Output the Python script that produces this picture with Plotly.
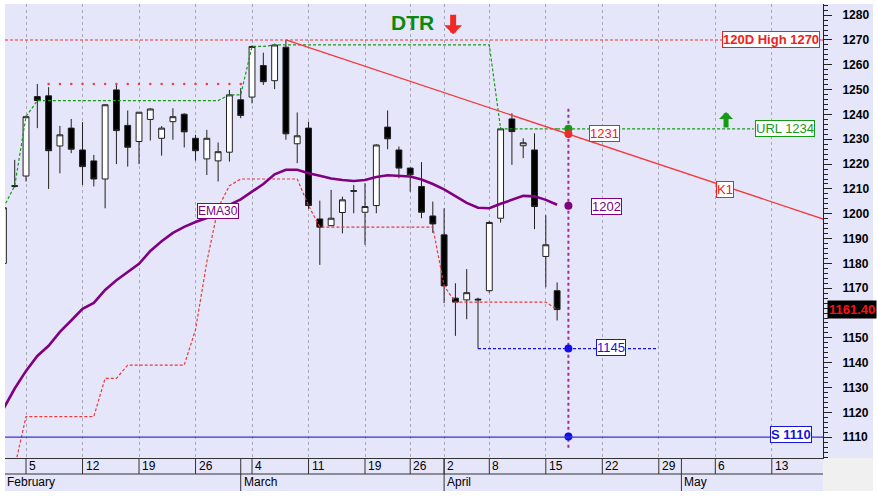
import plotly.graph_objects as go

# ---------------- data ----------------
# trading-day index (0 = Feb 5)
days = list(range(-2, 48))
opens = [1180, 1211, 1215.2, 1247.2, 1247.5, 1227.3, 1234.5, 1225.7, 1221.3, 1214,
         1249.9, 1235.6, 1229.1, 1238, 1230.4, 1237.1, 1240.1, 1230.4, 1222.1, 1221.3,
         1224.8, 1245.9, 1247, 1259.7, 1253.6, 1267.1, 1228.2, 1234.5, 1197.9, 1195.2,
         1200.5, 1209.3, 1200.6, 1203.3, 1234.9, 1225.7, 1218.4, 1211, 1199.1, 1191.5,
         1166, 1165.3, 1165.6, 1169, 1198.2, 1238.2, 1227.4, 1225.7, 1182.8, 1169]
highs = [1203, 1221.7, 1239.5, 1252.3, 1251, 1235.4, 1238.2, 1236.9, 1223.7, 1244.2,
         1252.3, 1241.6, 1241, 1242.5, 1235.3, 1242.5, 1240.5, 1231.8, 1233.8, 1228.7,
         1249.9, 1250.6, 1267.8, 1264.9, 1268.5, 1270, 1240.8, 1237.1, 1205.3, 1209.6,
         1206.9, 1211.6, 1212.3, 1228, 1241.6, 1227.1, 1218.6, 1220.8, 1204.9, 1202.2,
         1172, 1177.7, 1166.2, 1197, 1234.8, 1240.5, 1230.4, 1232.4, 1199.4, 1172.3]
lows = [1178, 1210.5, 1213, 1234.5, 1210, 1216.3, 1224.4, 1211.6, 1211, 1202.2,
        1220, 1219, 1220, 1229.5, 1223.4, 1229.8, 1226.7, 1221.4, 1215.6, 1213,
        1221, 1238.5, 1244.5, 1251.9, 1250.2, 1229.8, 1220.4, 1202, 1179.4, 1195,
        1192.1, 1200.2, 1187.5, 1200.2, 1226, 1214.3, 1208.9, 1198.2, 1192.3, 1164,
        1150.8, 1157.5, 1145.7, 1168.2, 1196.4, 1219.7, 1222.4, 1193.8, 1170.4, 1157]
closes = [1202.4, 1211.3, 1239.1, 1245.6, 1225.4, 1231.8, 1226, 1219, 1214, 1243.9,
          1233.5, 1226.8, 1240.9, 1242.2, 1234.5, 1239.1, 1233, 1225.4, 1230.4, 1225,
          1247.9, 1239.6, 1267.4, 1253.2, 1268, 1232.2, 1231.4, 1203.3, 1194.6, 1198.2,
          1205.6, 1209.1, 1202.9, 1227.7, 1230.2, 1218.4, 1215.7, 1200.6, 1195.9, 1170.9,
          1164.4, 1168.2, 1165.3, 1196.5, 1234.2, 1233.1, 1228.6, 1202.9, 1187.5, 1161.4]

ema30 = [1121.4, 1129.6, 1136.7, 1142.7, 1146.8, 1152.4, 1157, 1161.7, 1164.1, 1169.3,
         1173.2, 1176.6, 1179.8, 1185, 1188.9, 1192.3, 1194.7, 1196.7, 1198.3, 1200.7,
         1203.6, 1205.8, 1208.8, 1212, 1215.9, 1217.7, 1217.7, 1216.3, 1215.3, 1214.2,
         1213.6, 1213.2, 1213.6, 1214.8, 1215.5, 1215.4, 1215, 1213.8, 1212, 1209.8,
         1207.2, 1204.4, 1202.4, 1202.2, 1204, 1205.6, 1207.2, 1207, 1205.6, 1203.6]
upper_close = [1202.4, 1211.3, 1239.1, 1245.6, 1245.6, 1245.6, 1245.6, 1245.6, 1245.6, 1245.6,
               1245.6, 1245.6, 1245.6, 1245.6, 1245.6, 1245.6, 1245.6, 1245.6, 1245.6, 1245.6,
               1247.9, 1247.9, 1267.4, 1267.4, 1268, 1268, 1268, 1268, 1268, 1268,
               1268, 1268, 1268, 1268, 1268, 1268, 1268, 1268, 1268, 1268,
               1268, 1268, 1268, 1268, 1234.2, 1234.2, 1234.2, 1234.2, 1234.2, 1234.2]
lower_close = [1094, 1098, 1118.3, 1118.3, 1118.3, 1118.3, 1118.3, 1118.3, 1118.3, 1133.7,
               1133.7, 1139, 1139, 1139, 1139, 1139, 1139, 1153.3, 1180.6, 1202.4,
               1211.3, 1214, 1214, 1214, 1214, 1214, 1214, 1203.3, 1194.6, 1194.6,
               1194.6, 1194.6, 1194.6, 1194.6, 1194.6, 1194.6, 1194.6, 1194.6, 1194.6, 1170.9,
               1164.4, 1164.4, 1164.4, 1164.4, 1164.4, 1164.4, 1164.4, 1164.4, 1164.4, 1161.4]
res_days = [2, 3, 4, 5, 6, 7, 8, 9, 10, 11, 12, 13, 14, 15, 16, 17, 18, 19]
res_vals = [1252.3] * len(res_days)

k1_days = [23, 70.6]
k1_vals = [1270, 1197.8]
url_days = [47, 64.4]
url_vals = [1234.2, 1234.2]
sup_days = [40, 55.9]
sup_vals = [1145.7, 1145.7]
proj_day = 48
proj_levels = [1234.2, 1232.1, 1203.2, 1145.7, 1110.3]
proj_colors = ["#129a12", "#ee2a2a", "#800080", "#1010ee", "#1010ee"]
high120 = 1270
support = 1110
last_close = 1161.40

week_ticks = [0, 5, 10, 15, 20, 25, 30, 34, 37, 41, 46, 51, 56, 61, 66]
week_labels = ["5", "12", "19", "26", "4", "11", "19", "26", "2", "8", "15", "22", "29", "6", "13"]
month_starts = [19, 37, 58]
month_labels = ["March", "April", "May"]

# ---------------- figure ----------------
LAV = "#E6E6FA"
FONT = "Liberation Sans, Arial, sans-serif"
X0, X1 = -1.86, 70.53
Y0, Y1 = 1101.6, 1284.5
ROW1 = -16 / 454
ROW2 = -33 / 454

fig = go.Figure()

fig.add_trace(go.Scatter(x=days, y=lower_close, mode="lines",
                         line=dict(color="#e83a3a", width=1.2, dash="3px,2px"), hoverinfo="skip"))
fig.add_trace(go.Scatter(x=days, y=upper_close, mode="lines",
                         line=dict(color="#169a16", width=1.2, dash="3px,2px"), hoverinfo="skip"))
fig.add_trace(go.Scatter(x=url_days, y=url_vals, mode="lines",
                         line=dict(color="#169a16", width=1.2, dash="3px,2px"), hoverinfo="skip"))
fig.add_trace(go.Scatter(x=res_days, y=res_vals, mode="markers",
                         marker=dict(color="#e84040", size=2.5), hoverinfo="skip"))
fig.add_trace(go.Scatter(x=sup_days, y=sup_vals, mode="lines",
                         line=dict(color="#1515e0", width=1.2, dash="3px,2px"), hoverinfo="skip"))
fig.add_trace(go.Scatter(x=[proj_day, proj_day], y=[1105.7, 1242.7], mode="lines",
                         line=dict(color="#993399", width=2, dash="dot"), hoverinfo="skip"))

fig.add_trace(go.Candlestick(
    x=days, open=opens, high=highs, low=lows, close=closes,
    increasing=dict(line=dict(color="#202020", width=1), fillcolor="white"),
    decreasing=dict(line=dict(color="#202020", width=1), fillcolor="black"),
    whiskerwidth=0, hoverinfo="skip"))

fig.add_trace(go.Scatter(x=days, y=ema30, mode="lines",
                         line=dict(color="#800080", width=2.6), hoverinfo="skip"))
fig.add_trace(go.Scatter(x=k1_days, y=k1_vals, mode="lines",
                         line=dict(color="#f03a3a", width=1.3), hoverinfo="skip"))
fig.add_trace(go.Scatter(x=[proj_day] * len(proj_levels), y=proj_levels, mode="markers",
                         marker=dict(color=proj_colors, size=8), hoverinfo="skip"))

shapes = [
    # background of date rows and price axis
    dict(type="rect", xref="paper", yref="paper", x0=0, x1=1, y0=ROW2, y1=0,
         fillcolor=LAV, line=dict(width=0), layer="below"),
    dict(type="rect", xref="paper", yref="paper", x0=1, x1=868 / 818, y0=0, y1=1,
         fillcolor=LAV, line=dict(width=0), layer="below"),
    dict(type="rect", xref="paper", yref="paper", x0=1, x1=868 / 818, y0=ROW2, y1=0,
         fillcolor="#F0F0F0", line=dict(width=0), layer="below"),
    dict(type="line", xref="paper", yref="paper", x0=0, x1=1, y0=ROW1, y1=ROW1,
         line=dict(color="#333", width=1)),
    # horizontal levels
    dict(type="line", xref="paper", yref="y", x0=0, x1=1, y0=high120, y1=high120,
         line=dict(color="#f03030", width=1.2, dash="3px,2px")),
    dict(type="line", xref="paper", yref="y", x0=0, x1=1, y0=support, y1=support,
         line=dict(color="#3535d0", width=1.2)),
]
for t in week_ticks:
    shapes.append(dict(type="line", xref="x", yref="paper", x0=t, x1=t, y0=0, y1=ROW1,
                       line=dict(color="#333", width=1)))
for m in month_starts:
    shapes.append(dict(type="line", xref="x", yref="paper", x0=m, x1=m, y0=0, y1=ROW2,
                       line=dict(color="#333", width=1)))

ann = []
for t, lab in zip(week_ticks, week_labels):
    ann.append(dict(x=t, y=(ROW1) / 2, xref="x", yref="paper", text=lab, showarrow=False,
                    xanchor="left", yanchor="middle", xshift=1,
                    font=dict(family=FONT, size=12, color="black")))
ann.append(dict(x=0, y=(ROW1 + ROW2) / 2, xref="paper", yref="paper", text="February",
                showarrow=False, xanchor="left", yanchor="middle",
                font=dict(family=FONT, size=12, color="black")))
for m, lab in zip(month_starts, month_labels):
    ann.append(dict(x=m, y=(ROW1 + ROW2) / 2, xref="x", yref="paper", text=lab,
                    showarrow=False, xanchor="left", yanchor="middle", xshift=1,
                    font=dict(family=FONT, size=12, color="black")))


def boxlab(x, y, text, color, size=13, bold=False):
    return dict(x=x, y=y, xref="x", yref="y", text=text, showarrow=False,
                xanchor="center", yanchor="middle", bgcolor="white",
                bordercolor=color, borderwidth=1, borderpad=0,
                font=dict(family=FONT, size=size, color=color,
                          weight="bold" if bold else "normal"))


ann += [
    boxlab(65.9, 1270, "120D High 1270", "#f02020", 13, True),
    boxlab(67.2, 1234.2, "URL 1234", "#169a16"),
    boxlab(51.15, 1232.2, "1231", "#f02020"),
    boxlab(61.9, 1209.8, "K1", "#f02020"),
    boxlab(51.4, 1203.0, "1202", "#800080"),
    boxlab(51.8, 1146.2, "1145", "#1515e0"),
    boxlab(67.7, 1111.0, "S 1110", "#1515e0", 13, True),
    boxlab(16.95, 1201.2, "EMA30", "#800080", 12),
    dict(x=34.16, y=1276.9, xref="x", yref="y", text="DTR", showarrow=False,
         xanchor="center", yanchor="middle",
         font=dict(family=FONT, size=21, color="#0a8a0a", weight="bold")),
    dict(x=37.8, y=1272.3, xref="x", yref="y", text="", showarrow=True,
         ax=0, ay=-21, arrowhead=1, arrowsize=0.5, arrowwidth=6, arrowcolor="#f02828"),
    dict(x=61.95, y=1241.0, xref="x", yref="y", text="", showarrow=True,
         ax=0, ay=17, arrowhead=1, arrowsize=0.47, arrowwidth=5, arrowcolor="#169a16"),
    dict(x=827 / 818 - 5 / 818, y=last_close, xref="paper", yref="y",
         text="1161.40", showarrow=False, xanchor="left", yanchor="middle",
         bgcolor="black", borderpad=1,
         font=dict(family=FONT, size=13, color="#ff1010", weight="bold")),
]

fig.update_layout(
    width=877, height=498,
    margin=dict(l=5, r=54, t=4, b=40),
    paper_bgcolor="white", plot_bgcolor=LAV,
    showlegend=False, boxgap=0.26,
    shapes=shapes, annotations=ann,
    font=dict(family=FONT),
    xaxis=dict(range=[X0, X1], tickvals=week_ticks, showticklabels=False, ticks="",
               showgrid=True, gridcolor="#a8a8b8", griddash="3px,3px", gridwidth=1,
               zeroline=False, showline=True, linecolor="#333", linewidth=1,
               rangeslider=dict(visible=False), fixedrange=True),
    yaxis=dict(range=[Y0, Y1], side="right", tick0=1110, dtick=10,
               ticks="outside", ticklen=8, tickcolor="#222", tickwidth=1,
               minor=dict(dtick=2, ticklen=4, tickcolor="#222", ticks="outside"),
               showgrid=False, zeroline=False, showline=True, linecolor="#222", linewidth=1,
               ticklabelstandoff=8, fixedrange=True,
               tickfont=dict(family=FONT, size=12, color="black", weight="bold")),
)

fig.write_html("out.html", config={"displayModeBar": False},
               post_script="document.body.style.margin='0px';"
                           "document.body.style.overflow='hidden';")
